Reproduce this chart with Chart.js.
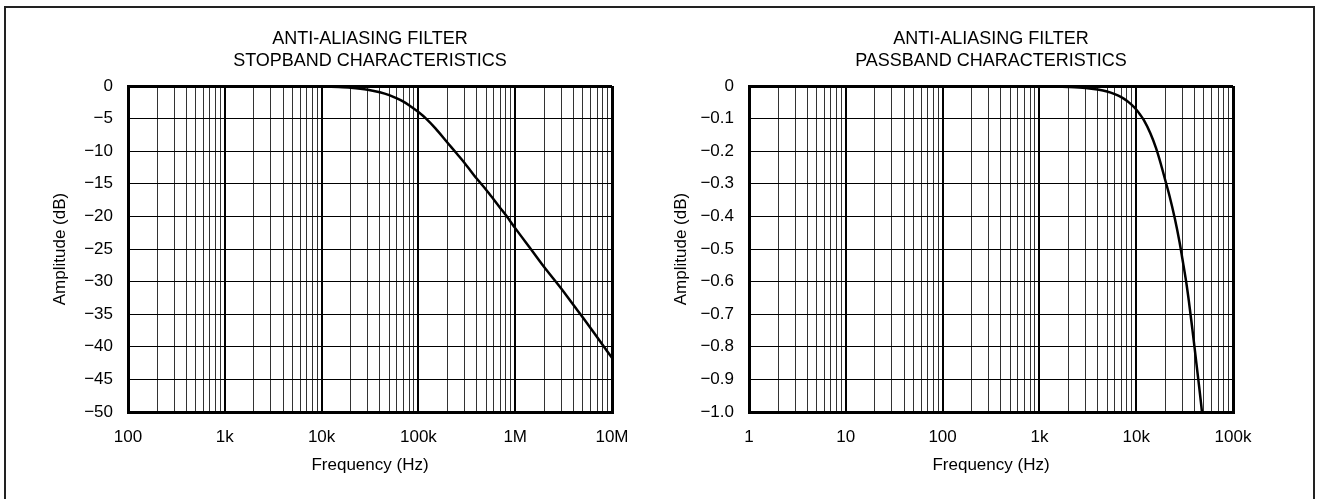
<!DOCTYPE html>
<html>
<head>
<meta charset="utf-8">
<script src="https://cdn.jsdelivr.net/npm/chart.js@4/dist/chart.umd.min.js"></script>
<style>
    html, body { margin: 0; padding: 0; background: #fff; overflow: hidden; }
    body { width: 1319px; height: 499px; position: relative; }
    .frame { position: absolute; left: 4px; top: 6px; width: 1307px; height: 560px; border: 2px solid #222; }
    canvas { position: absolute; top: 0; }
    #stopChart { left: 0; }
    #passChart { left: 621px; }
</style>
</head>
<body>
<div class="frame"></div>
<canvas id="stopChart" width="740" height="499"></canvas>
<canvas id="passChart" width="740" height="499"></canvas>
<script>
// -------------------------------------------------------------------------- Data

// stopband curve
const stopFreq = [100, 1000, 2000, 5000, 10000, 15000, 20000, 30000, 40000, 50000, 60000, 70000,
    80000, 100000, 120000, 150000, 200000, 250000, 300000, 400000, 500000, 600000, 700000,
    800000, 1000000, 1500000, 2000000, 3000000, 4000000, 5000000, 7000000, 10000000]
const stopAmp = [0, 0, -0.003, -0.017, -0.07, -0.15, -0.26, -0.56, -0.95, -1.4, -1.9, -2.4,
    -2.95, -4.0, -5.0, -6.5, -8.7, -10.4, -11.8, -14.2, -15.9, -17.4, -18.7,
    -19.8, -21.8, -25.3, -27.8, -31.1, -33.6, -35.5, -38.5, -41.7]

// passband curve
const passFreq = [1, 100, 1000, 2000, 3000, 4000, 5000, 6000, 7000, 8000, 9000, 10000,
    11000, 12000, 14000, 16000, 18000, 20000, 22000, 25000, 28000, 30000, 33000, 35000,
    38000, 40000, 43000, 45000, 47000, 47800]
const passAmp = [0, 0, -0.001, -0.003, -0.006, -0.011, -0.017, -0.025, -0.034, -0.045, -0.058, -0.072,
    -0.088, -0.105, -0.145, -0.19, -0.24, -0.29, -0.335, -0.405, -0.478, -0.53, -0.605, -0.66,
    -0.745, -0.80, -0.88, -0.93, -0.98, -1.0]

// axis ticks
const stopDecades = [100, 1000, 10000, 100000, 1000000, 10000000]
const stopDecadeLabels = ['100', '1k', '10k', '100k', '1M', '10M']
const stopAmpTicks = [0, -5, -10, -15, -20, -25, -30, -35, -40, -45, -50]

const passDecades = [1, 10, 100, 1000, 10000, 100000]
const passDecadeLabels = ['1', '10', '100', '1k', '10k', '100k']
const passAmpTicks = [0, -0.1, -0.2, -0.3, -0.4, -0.5, -0.6, -0.7, -0.8, -0.9, -1.0]

// -------------------------------------------------------------------------- Style

const font = '"Liberation Sans", Arial, Helvetica, sans-serif'
const ink = '#000'

// -------------------------------------------------------------------------- Chart builder

function makeChart(id, title, freq, amp, decades, decadeLabels, ampTicks, decimals) {
    const xMin = decades[0]
    const xMax = decades[decades.length - 1]
    const yMin = ampTicks[ampTicks.length - 1]
    const yMax = ampTicks[0]
    const near = (a, b) => Math.abs(a - b) < 1e-9

    const points = freq.map((f, i) => ({ x: f, y: amp[i] }))

    return new Chart(document.getElementById(id), {
        type: 'line',
        data: {
            datasets: [{
                data: points,
                borderColor: ink,
                borderWidth: 2.5,
                pointRadius: 0,
                fill: false,
                cubicInterpolationMode: 'monotone'
            }]
        },
        options: {
            responsive: false,
            animation: false,
            devicePixelRatio: 1,
            layout: {
                padding: { top: 28, left: 50, right: 128, bottom: 23 }
            },
            plugins: {
                legend: { display: false },
                tooltip: { enabled: false },
                title: {
                    display: true,
                    fullSize: false,   // centre the title over the plot, not the canvas
                    text: ['ANTI-ALIASING FILTER', title],
                    color: ink,
                    font: { family: font, size: 18, weight: 'normal', lineHeight: 22 / 18 },
                    padding: { top: 0, bottom: 14 }
                }
            },
            scales: {
                x: {
                    type: 'logarithmic',
                    min: xMin,
                    max: xMax,
                    afterBuildTicks: scale => {
                        const ticks = []
                        decades.forEach((d, i) => {
                            ticks.push({ value: d })
                            if (i < decades.length - 1) {
                                for (let m = 2; m <= 9; m++) ticks.push({ value: m * d })
                            }
                        })
                        scale.ticks = ticks
                    },
                    afterFit: scale => { scale.height = 64 },
                    ticks: {
                        autoSkip: false,
                        maxRotation: 0,
                        padding: 15,
                        color: ink,
                        font: { family: font, size: 17 },
                        callback: value => {
                            const i = decades.findIndex(d => near(d, value))
                            return i >= 0 ? decadeLabels[i] : ''
                        }
                    },
                    grid: {
                        drawTicks: false,
                        color: ctx => decades.some(d => near(d, ctx.tick.value)) ? ink : '#333',
                        lineWidth: ctx => {
                            const v = ctx.tick.value
                            if (near(v, xMin) || near(v, xMax)) return 3
                            return decades.some(d => near(d, v)) ? 2 : 1
                        }
                    },
                    border: { color: ink, width: 3 },
                    title: {
                        display: true,
                        text: 'Frequency (Hz)',
                        color: ink,
                        font: { family: font, size: 17 },
                        padding: 0
                    }
                },
                y: {
                    type: 'linear',
                    min: yMin,
                    max: yMax,
                    afterBuildTicks: scale => {
                        scale.ticks = ampTicks.map(v => ({ value: v }))
                    },
                    afterFit: scale => { scale.width = 78 },
                    ticks: {
                        padding: 15,
                        color: ink,
                        font: { family: font, size: 17 },
                        callback: value => near(value, 0) ? '0' : '\u2212' + Math.abs(value).toFixed(decimals)
                    },
                    grid: {
                        drawTicks: false,
                        color: ink,
                        lineWidth: ctx => {
                            const v = ctx.tick.value
                            return (near(v, yMin) || near(v, yMax)) ? 3 : 1
                        }
                    },
                    border: { color: ink, width: 3 },
                    title: {
                        display: true,
                        text: 'Amplitude (dB)',
                        color: ink,
                        font: { family: font, size: 17 },
                        padding: 0
                    }
                }
            }
        }
    })
}

// -------------------------------------------------------------------------- Render Charts

let stopChart = makeChart('stopChart', 'STOPBAND CHARACTERISTICS',
    stopFreq, stopAmp, stopDecades, stopDecadeLabels, stopAmpTicks, 0)

let passChart = makeChart('passChart', 'PASSBAND CHARACTERISTICS',
    passFreq, passAmp, passDecades, passDecadeLabels, passAmpTicks, 1)
</script>
</body>
</html>
